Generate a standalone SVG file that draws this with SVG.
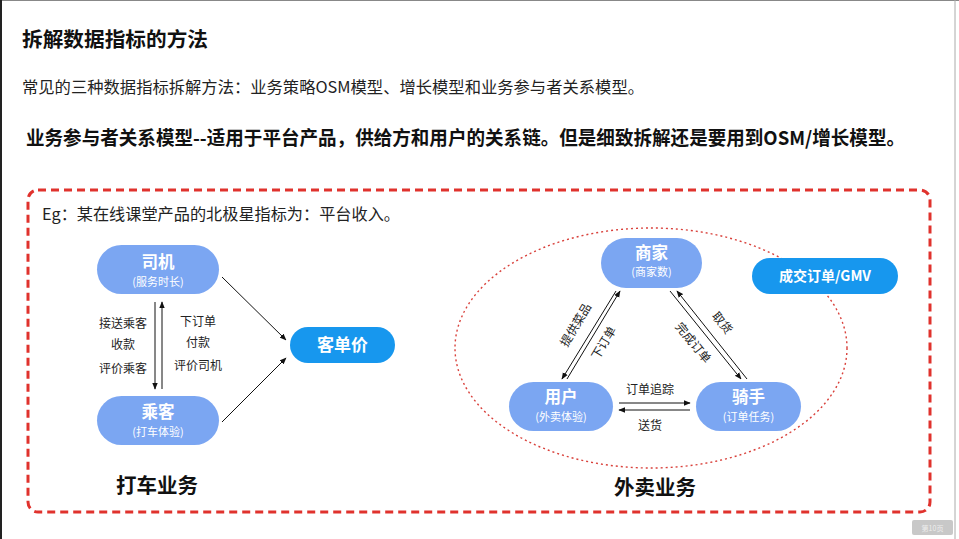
<svg xmlns="http://www.w3.org/2000/svg" width="959" height="539" viewBox="0 0 959 539">
<defs>
<style>
text{font-family:"Noto Sans CJK SC","Noto Sans",sans-serif;}
.h1{font-size:20.5px;font-weight:bold;fill:#111;}
.p{font-size:16px;fill:#222;}
.h2{font-size:19px;font-weight:bold;fill:#111;}
.nodeA{fill:#7ba6f2;}
.nodeB{fill:#1797ee;}
.nt{font-size:16.5px;font-weight:bold;fill:#fff;text-anchor:middle;}
.ns{font-size:11px;fill:#fff;text-anchor:middle;}
.lbl{font-size:12px;fill:#222;text-anchor:middle;}
.big{font-size:20.5px;font-weight:bold;fill:#111;text-anchor:middle;}
.ln{stroke:#111;stroke-width:1;fill:none;marker-end:url(#ah);}
</style>
<marker id="ah" viewBox="0 0 10 10" refX="9" refY="5" markerWidth="7" markerHeight="7" orient="auto-start-reverse" markerUnits="userSpaceOnUse">
<path d="M0,1 L10,5 L0,9 z" fill="#111"/>
</marker>
</defs>
<rect width="959" height="539" fill="#fff"/>
<line x1="0" y1="0.5" x2="959" y2="0.5" stroke="#888" stroke-width="1"/>
<line x1="1" y1="0" x2="1" y2="539" stroke="#222" stroke-width="2"/>
<line x1="955" y1="0" x2="955" y2="539" stroke="#aaa" stroke-width="1"/>

<g id="header">
<text class="h1" x="22" y="47" textLength="186" lengthAdjust="spacingAndGlyphs">拆解数据指标的方法</text>
<text class="p" x="22" y="93" textLength="622" lengthAdjust="spacingAndGlyphs">常见的三种数据指标拆解方法：业务策略OSM模型、增长模型和业务参与者关系模型。</text>
<text class="h2" x="26" y="145" textLength="879" lengthAdjust="spacingAndGlyphs">业务参与者关系模型--适用于平台产品，供给方和用户的关系链。但是细致拆解还是要用到OSM/增长模型。</text>
</g>

<g id="frame">
<rect x="28" y="190" width="902" height="322" rx="10" fill="none" stroke="#e0322d" stroke-width="3" stroke-dasharray="8 5"/>
<text class="p" x="42" y="220" textLength="358" lengthAdjust="spacingAndGlyphs">Eg：某在线课堂产品的北极星指标为：平台收入。</text>
</g>

<g id="ellipse">
<ellipse cx="651" cy="348" rx="196" ry="120" fill="none" stroke="#d9413b" stroke-width="1.4" stroke-dasharray="2 3"/>
</g>

<g id="connectors">
<line class="ln" x1="222" y1="277" x2="286" y2="340"/>
<line class="ln" x1="222" y1="422" x2="286" y2="358"/>
<line class="ln" x1="155" y1="302" x2="155" y2="389"/>
<line class="ln" x1="162" y1="389" x2="162" y2="302"/>
<line class="ln" x1="616" y1="291" x2="562" y2="379"/>
<line class="ln" x1="567" y1="379" x2="620" y2="291"/>
<line class="ln" x1="670" y1="291" x2="741" y2="379"/>
<line class="ln" x1="747" y1="379" x2="677" y2="291"/>
<line class="ln" x1="619" y1="403" x2="690" y2="403"/>
<line class="ln" x1="690" y1="410" x2="619" y2="410"/>
</g>

<g id="labels">
<text class="lbl" x="123" y="328">接送乘客</text>
<text class="lbl" x="123" y="349">收款</text>
<text class="lbl" x="123" y="373">评价乘客</text>
<text class="lbl" x="198" y="326">下订单</text>
<text class="lbl" x="198" y="347">付款</text>
<text class="lbl" x="198" y="370">评价司机</text>
<text class="lbl" transform="translate(576,325) rotate(-59)" y="4">提供菜品</text>
<text class="lbl" transform="translate(604,343) rotate(-59)" y="4">下订单</text>
<text class="lbl" transform="translate(722,323) rotate(51)" y="4">取货</text>
<text class="lbl" transform="translate(693,343) rotate(51)" y="4">完成订单</text>
<text class="lbl" x="650" y="394">订单追踪</text>
<text class="lbl" x="650" y="430">送货</text>
</g>

<g id="siji">
<rect class="nodeA" x="97" y="245" width="122" height="49" rx="24.5"/>
<text class="nt" x="158" y="268">司机</text>
<text class="ns" x="158" y="286">(服务时长)</text>
</g>
<g id="chengke">
<rect class="nodeA" x="97" y="396" width="122" height="49" rx="24.5"/>
<text class="nt" x="158" y="418">乘客</text>
<text class="ns" x="158" y="436">(打车体验)</text>
</g>
<g id="kedanjia">
<rect class="nodeB" x="290" y="327" width="105" height="36" rx="18"/>
<text class="nt" x="342.5" y="351" style="font-size:17px">客单价</text>
</g>

<g id="shangjia">
<rect class="nodeA" x="601" y="238" width="101" height="50" rx="25"/>
<text class="nt" x="651.5" y="259">商家</text>
<text class="ns" x="651.5" y="276">(商家数)</text>
</g>
<g id="yonghu">
<rect class="nodeA" x="509" y="382" width="104" height="49" rx="24.5"/>
<text class="nt" x="561" y="403">用户</text>
<text class="ns" x="561" y="421">(外卖体验)</text>
</g>
<g id="qishou">
<rect class="nodeA" x="696" y="382" width="105" height="49" rx="24.5"/>
<text class="nt" x="748.5" y="403">骑手</text>
<text class="ns" x="748.5" y="421">(订单任务)</text>
</g>
<g id="gmv">
<rect class="nodeB" x="752" y="258" width="146" height="36" rx="18"/>
<text class="nt" x="825" y="281" style="font-size:14px">成交订单/GMV</text>
</g>

<g id="titles">
<text class="big" x="157" y="493">打车业务</text>
<text class="big" x="655" y="495">外卖业务</text>
</g>

<g id="pager">
<rect x="912" y="520" width="41" height="15" rx="2" fill="#c8c8c8"/>
<text x="932.5" y="530.5" style="font-size:7px;fill:#eee;text-anchor:middle">第10页</text>
</g>
</svg>
